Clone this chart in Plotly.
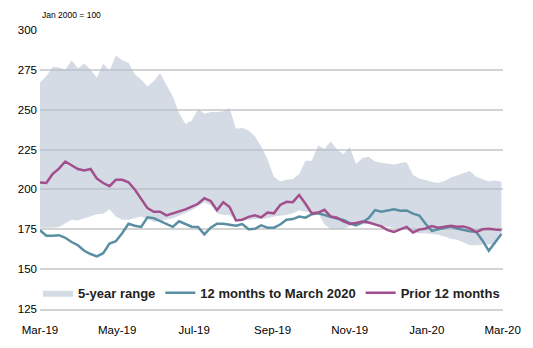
import pandas as pd
import plotly.graph_objects as go

dates = pd.date_range("2019-03-01", periods=74, freq="5D")

range_upper = [267, 271, 277, 276.5, 275, 281, 276, 279, 275, 270,
               278.8, 274.5, 284, 281, 279.5, 272.2, 269, 264.5, 268, 272.8,
               265.5, 258.5, 248, 241, 243, 250.5, 247.5, 248.5, 248.5, 249,
               251, 238, 238.5, 237, 233.4, 227, 219, 208, 205, 206,
               206.5, 209.6, 218, 218, 227.5, 225.5, 230, 225, 222, 226.6,
               216, 219.7, 220.5, 217.5, 216.7, 216.3, 215.7, 216.5, 217, 209,
               206.8, 205.9, 204.6, 204, 205.3, 207.5, 208.8, 209.9, 211.5, 208,
               206.5, 205, 205.6, 204.8]

range_lower = [176, 176, 176, 176.5, 178.5, 181, 180.5, 182, 183, 184.5,
               184.8, 187.5, 183, 181, 181, 182, 183, 181.5, 179.5, 180,
               181, 182, 183.5, 185, 187, 189.5, 192, 190, 185, 184,
               184, 181, 180.5, 181, 181.5, 181.5, 182, 183, 183.5, 184,
               185, 187, 186, 186, 185, 178, 175, 175, 175, 177,
               178, 178, 178.5, 178, 177, 176.5, 176, 175.5, 174.5, 173,
               172.5, 172.5, 172, 171.5, 170.5, 169, 168.5, 166.5, 165, 165,
               165.5, 165.5, 166, 171]

last_12m = [174.4, 171, 171, 171.3, 169.7, 167, 165, 161.5, 159.5, 158,
            160, 166, 167.5, 172.5, 178.5, 177.2, 176.5, 182.5, 182, 180,
            178, 176.5, 180, 178.5, 176.6, 176.5, 171.8, 176, 178.5, 178.5,
            178, 177.2, 178.3, 175, 175.3, 177.5, 176, 176, 178, 181,
            181.4, 183, 182.3, 184.5, 185, 183.8, 183, 181.8, 180.8, 178.8,
            177.4, 179.3, 182, 187, 186, 186.6, 187.5, 186.6, 186.8, 184.8,
            183.6, 178.5, 174, 175, 176, 176.7, 175.4, 174.5, 173.8, 173.4,
            168, 161.5, 166.5, 172]

prior_12m = [204.4, 204, 209.7, 213, 217.5, 215.3, 212.8, 211.9, 212.8, 206.8,
             204, 202, 206, 206, 204.5, 200, 194, 188.3, 186, 186,
             183.7, 185, 186, 187.5, 189.2, 191, 194.5, 192.7, 187, 192,
             189, 180.5, 181, 182.8, 183.8, 182.5, 185.5, 185, 190.3, 192.2,
             192, 196.5, 191, 185, 185.5, 187.2, 183, 182.3, 180, 178.5,
             179, 179.8, 179.2, 178.2, 176.8, 174.5, 173.3, 175, 176.5, 173,
             174.8, 175.5, 177, 176, 176.6, 177.2, 176.6, 176.8, 175.6, 173.2,
             175, 175.3, 174.8, 174.6]

tick_dates = ["2019-03-01", "2019-05-01", "2019-07-01", "2019-09-01",
              "2019-11-01", "2020-01-01", "2020-03-01"]
tick_labels = ["Mar-19", "May-19", "Jul-19", "Sep-19", "Nov-19", "Jan-20", "Mar-20"]
y_ticks = [125, 150, 175, 200, 225, 250, 275, 300]

FONT = "Liberation Sans, Arial, sans-serif"
GRID = "#D4D4D4"

fig = go.Figure()
fig.add_trace(go.Scatter(x=dates, y=range_lower, mode="lines",
                         line=dict(width=0, color="rgba(0,0,0,0)"),
                         showlegend=False, hoverinfo="skip"))
fig.add_trace(go.Scatter(x=dates, y=range_upper, mode="lines", fill="tonexty",
                         fillcolor="rgba(178,189,206,0.55)",
                         line=dict(width=0, color="rgba(0,0,0,0)"),
                         name="5-year range"))
fig.add_trace(go.Scatter(x=dates, y=last_12m, mode="lines",
                         line=dict(width=2.5, color="#5A8EA2"),
                         name="12 months to March 2020"))
fig.add_trace(go.Scatter(x=dates, y=prior_12m, mode="lines",
                         line=dict(width=2.5, color="#A14F8D"),
                         name="Prior 12 months"))

fig.update_layout(
    width=533, height=348,
    margin=dict(l=40, r=18, t=30, b=24),
    paper_bgcolor="white", plot_bgcolor="white",
    font=dict(family=FONT, size=11.5, color="#000000"),
    showlegend=True,
    legend=dict(orientation="h", x=0.5, xanchor="center", y=0.058, yanchor="middle",
                bgcolor="rgba(0,0,0,0)", font=dict(size=13, color="#222222",
                                                   family=FONT, weight="bold"),
                itemwidth=30, traceorder="normal"),
    annotations=[dict(text="Jan 2000 = 100", xref="paper", yref="paper",
                      x=0, y=1, xanchor="left", yanchor="bottom", yshift=8,
                      showarrow=False, font=dict(size=8.5, color="#000000"))],
)
fig.update_xaxes(range=["2019-03-01", "2020-03-01 06:00"], tickvals=tick_dates,
                 ticktext=tick_labels, showgrid=False, showline=True,
                 linecolor=GRID, linewidth=1.5, ticklabeloverflow="allow",
                 zeroline=False, ticks="", ticklabelstandoff=9)
fig.update_yaxes(range=[125, 300], tickvals=y_ticks, showgrid=True,
                 gridcolor=GRID, gridwidth=1.5, zeroline=False,
                 showline=False, ticks="", ticklabelstandoff=2)

fig.write_html("out.html")
